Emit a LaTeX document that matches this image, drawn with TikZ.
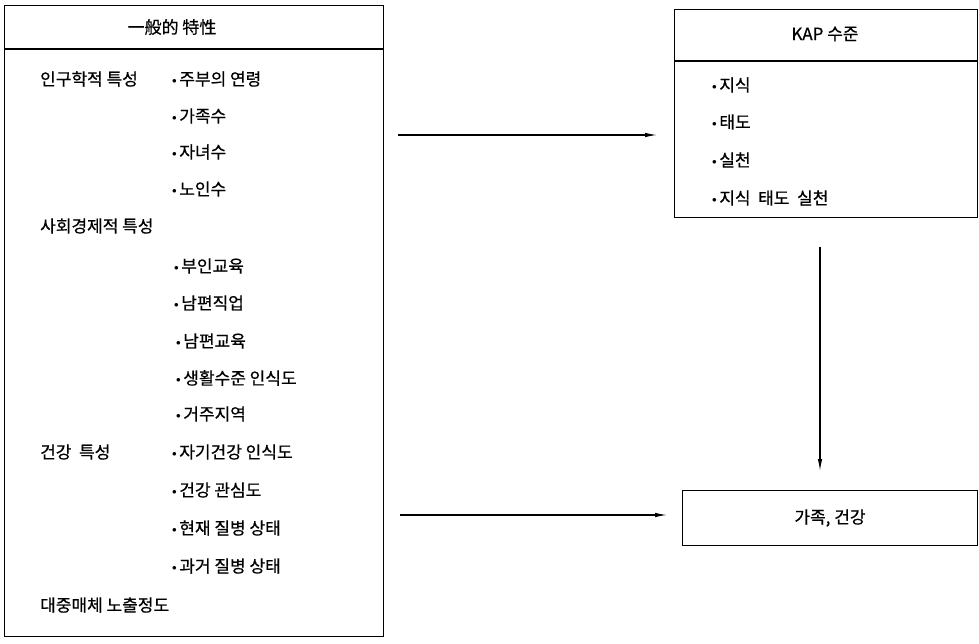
\documentclass[tikz,border=0pt]{standalone}
\usepackage{fontspec}
\setmainfont{Liberation Serif}
\newfontfamily\kr[FakeBold=0.6]{Noto Sans CJK KR}
\usetikzlibrary{arrows.meta}
\newcommand\bul{\raisebox{2pt}{\normalfont\small$\bullet$}\hspace{2.5pt}}
\begin{document}
\begin{tikzpicture}[x=1pt,y=-1pt,
  frame/.style={draw, line width=1.2pt, inner sep=0pt, anchor=north west},
  txt/.style={font=\kr\fontsize{17}{20}\selectfont, inner sep=0pt, anchor=west},
  ttl/.style={font=\kr\fontsize{17}{20}\selectfont, inner sep=0pt},
  conn/.style={line width=1.1pt, -{Latex[length=12pt,width=4.5pt]}}]
\useasboundingbox (0,0) rectangle (979,644);
% left box
\node[frame, minimum width=379pt, minimum height=631pt] (gen) at (4,5) {};
\coordinate (gdl) at (4,49); \coordinate (gdr) at (383,49);
\draw[line width=1.2pt] (gdl) -- (gdr);
\node[ttl] (gt) at (172,27) {一般的 特性};
\node[txt] (a0) at (40,79) {인구학적 특성};
\node[txt] (a1) at (172,79) {\bul 주부의 연령};
\node[txt] (a2) at (172,116) {\bul 가족수};
\node[txt] (a3) at (172,152) {\bul 자녀수};
\node[txt] (a4) at (172,189) {\bul 노인수};
\node[txt] (b0) at (40,226) {사회경제적 특성};
\node[txt] (b1) at (174,266) {\bul 부인교육};
\node[txt] (b2) at (174,303) {\bul 남편직업};
\node[txt] (b3) at (176,341) {\bul 남편교육};
\node[txt] (b4) at (176,378) {\bul 생활수준 인식도};
\node[txt] (b5) at (176,414) {\bul 거주지역};
\node[txt] (c0) at (40,452) {건강 \ 특성};
\node[txt] (c1) at (172,452) {\bul 자기건강 인식도};
\node[txt] (c2) at (172,490) {\bul 건강 관심도};
\node[txt] (c3) at (172,528) {\bul 현재 질병 상태};
\node[txt] (c4) at (172,566) {\bul 과거 질병 상태};
\node[txt] (d0) at (40,605) {대중매체 노출정도};
% KAP box
\node[frame, minimum width=303pt, minimum height=208pt] (kap) at (674,9) {};
\coordinate (kdl) at (674,61); \coordinate (kdr) at (977,61);
\draw[line width=1.2pt] (kdl) -- (kdr);
\node[ttl] (kt) at (825,34) {KAP {\kr 수준}};
\node[txt] (k1) at (712,85) {\bul 지식};
\node[txt] (k2) at (712,122) {\bul 태도};
\node[txt] (k3) at (712,160) {\bul 실천};
\node[txt] (k4) at (712,198) {\bul 지식 \ 태도 \ 실천};
% bottom box
\node[frame, minimum width=295pt, minimum height=55pt] (fam) at (682,490) {};
\node[ttl] (ft) at (830,518) {가족, 건강};
% connectors
\coordinate (s1) at (398,135); \coordinate (e1) at (657,135);
\draw[conn] (s1) -- (e1);
\coordinate (s2) at (820,247); \coordinate (e2) at (820,471);
\draw[conn] (s2) -- (e2);
\coordinate (s3) at (400,515); \coordinate (e3) at (667,515);
\draw[conn] (s3) -- (e3);
\end{tikzpicture}
\end{document}
